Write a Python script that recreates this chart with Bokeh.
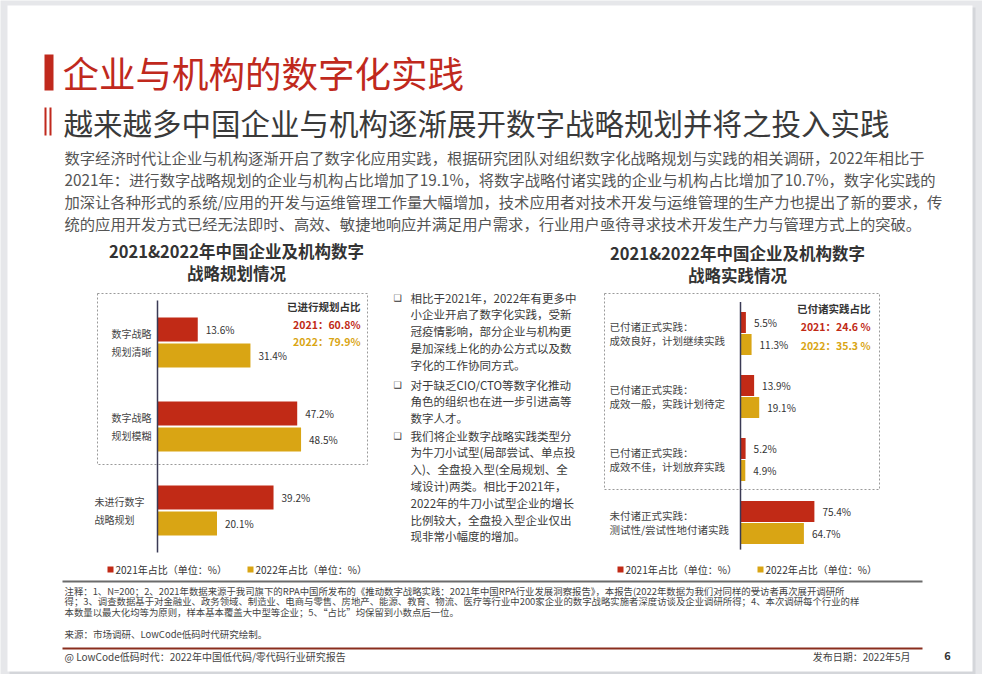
import numpy as np
from bokeh.plotting import figure
from bokeh.models import Range1d, ColumnDataSource
from bokeh.core.properties import value
from bokeh.embed import file_html
from bokeh.resources import INLINE

# ---------------- data ----------------
years = ["2021", "2022"]
plan_labels = [("数字战略", "规划清晰"), ("数字战略", "规划模糊"), ("未进行数字", "战略规划")]
plan_2021 = [13.6, 47.2, 39.2]
plan_2022 = [31.4, 48.5, 20.1]
prac_labels = [("已付诸正式实践：", "成效良好，计划继续实践"),
               ("已付诸正式实践：", "成效一般，实践计划待定"),
               ("已付诸正式实践：", "成效不佳，计划放弃实践"),
               ("未付诸正式实践：", "测试性/尝试性地付诸实践")]
prac_2021 = [5.5, 13.9, 5.2, 75.4]
prac_2022 = [11.3, 19.1, 4.9, 64.7]

title = "企业与机构的数字化实践"
subtitle = "越来越多中国企业与机构逐渐展开数字战略规划并将之投入实践"
para = ["数字经济时代让企业与机构逐渐开启了数字化应用实践，根据研究团队对组织数字化战略规划与实践的相关调研，2022年相比于",
        "2021年：进行数字战略规划的企业与机构占比增加了19.1%，将数字战略付诸实践的企业与机构占比增加了10.7%，数字化实践的",
        "加深让各种形式的系统/应用的开发与运维管理工作量大幅增加，技术应用者对技术开发与运维管理的生产力也提出了新的要求，传",
        "统的应用开发方式已经无法即时、高效、敏捷地响应并满足用户需求，行业用户亟待寻求技术开发生产力与管理方式上的突破。"]
chart1_title = ["2021&2022年中国企业及机构数字", "战略规划情况"]
chart2_title = ["2021&2022年中国企业及机构数字", "战略实践情况"]
mid_bullets = [
    ["相比于2021年，2022年有更多中", "小企业开启了数字化实践，受新", "冠疫情影响，部分企业与机构更",
     "是加深线上化的办公方式以及数", "字化的工作协同方式。"],
    ["对于缺乏CIO/CTO等数字化推动", "角色的组织也在进一步引进高等", "数字人才。"],
    ["我们将企业数字战略实践类型分", "为牛刀小试型(局部尝试、单点投", "入)、全盘投入型(全局规划、全",
     "域设计)两类。相比于2021年，", "2022年的牛刀小试型企业的增长", "比例较大，全盘投入型企业仅出",
     "现非常小幅度的增加。"],
]
legend_text = ["2021年占比（单位：%）", "2022年占比（单位：%）"]
notes = ["注释：1、N=200；2、2021年数据来源于我司旗下的RPA中国所发布的《推动数字战略实践：2021年中国RPA行业发展洞察报告》，本报告(2022年数据为我们对同样的受访者再次展开调研所",
         "得；3、调查数据基于对金融业、政务领域、制造业、电商与零售、房地产、能源、教育、物流、医疗等行业中200家企业的数字战略实施者深度访谈及企业调研所得；4、本次调研每个行业的样",
         "本数量以最大化均等为原则，样本基本覆盖大中型等企业；5、“占比”均保留到小数点后一位。"]
source_text = "来源：市场调研、LowCode低码时代研究绘制。"
footer_left = "@ LowCode低码时代：2022年中国低代码/零代码行业研究报告"
footer_right = "发布日期：2022年5月"
page_no = "6"

# ---------------- style ----------------
CJK = "Noto Sans CJK SC"
RED = "#c12a16"
GOLD = "#d9a514"
TRED = "#c0291d"
DARK = "#333333"
BG = "#e6e7ea"

W, H = 982, 674
X0, Y0 = 8, 8
p = figure(width=W, height=H, x_range=Range1d(X0, X0 + W), y_range=Range1d(Y0 + H, Y0),
           output_backend="svg", toolbar_location=None, min_border=0,
           x_axis_location=None, y_axis_location=None)
p.grid.visible = False
p.outline_line_color = None
p.background_fill_color = BG
p.border_fill_color = BG


def map_range(v_a, px_a, v_b, px_b, px_start, px_end):
    k = (v_b - v_a) / (px_b - px_a)
    return Range1d(start=v_a + (px_start - px_a) * k, end=v_a + (px_end - px_a) * k)


p.extra_x_ranges = {"lx": map_range(0, 165, 10, 194.6, X0, X0 + W),
                    "rx": map_range(0, 748, 10, 757.8, X0, X0 + W)}
p.extra_y_ranges = {"ly": map_range(0, 350, 1, 434, Y0 + H, Y0),
                    "ry": map_range(0, 341, 1, 404, Y0 + H, Y0)}


def txt(x, y, s, size, color=DARK, weight="normal", align="left", font=CJK, **kw):
    p.text(x=[x], y=[y], text=[s], text_font=value(font), text_font_size=f"{size}px",
           text_color=color, text_font_style=weight, text_align=align,
           text_baseline="middle", **kw)


# slide sheet with soft shadow
p.quad(left=[17], right=[983], top=[15], bottom=[682], fill_color="#d4d6da", line_color=None)
p.quad(left=[15], right=[980], top=[13], bottom=[679], fill_color="white", line_color=None)

# title block
p.quad(left=[52], right=[61], top=[62], bottom=[98], fill_color=TRED, line_color=None)
txt(70, 80, title, 36.5, TRED)
p.segment(x0=[53, 58], y0=[115, 115], x1=[53, 58], y1=[143, 143], line_color=TRED, line_width=2)
txt(71, 129, subtitle, 29.5, "#3a3a3a")
for i, line in enumerate(para):
    txt(72, 164 + i * 22.3, line, 15.3, "#555555")

# chart titles
for i, line in enumerate(chart1_title):
    txt(244, 258 + i * 22, line, 16.5, DARK, "bold", "center")
for i, line in enumerate(chart2_title):
    txt(745, 260 + i * 22, line, 16.5, DARK, "bold", "center")

# dashed boxes
p.quad(left=[105, 612], right=[375, 887], top=[301, 301], bottom=[472, 497], fill_color=None,
       line_color="#9a9a9a", line_dash="2 2", line_width=1)


def bar_chart(v21, v22, labels, xr, yr, off, h, label_x, dy, lab_size, axis_bottom):
    n = len(v21)
    idx = np.arange(n)
    src = ColumnDataSource(dict(y21=idx - off, y22=idx + off, v21=v21, v22=v22,
                                t21=[f"{v:.1f}%" for v in v21], t22=[f"{v:.1f}%" for v in v22]))
    p.hbar(y="y21", left=0, right="v21", height=h, fill_color=RED, line_color=None,
           source=src, x_range_name=xr, y_range_name=yr)
    p.hbar(y="y22", left=0, right="v22", height=h, fill_color=GOLD, line_color=None,
           source=src, x_range_name=xr, y_range_name=yr)
    for col, t in (("y21", "t21"), ("y22", "t22")):
        p.text(x="v" + col[1:], y=col, text=t, source=src, x_offset=8,
               text_font=value(CJK), text_font_size="10px", text_color=DARK,
               text_baseline="middle", x_range_name=xr, y_range_name=yr)
    p.segment(x0=[0], y0=[-0.5], x1=[0], y1=[axis_bottom], line_color="#3a3a55", line_width=1.5,
              x_range_name=xr, y_range_name=yr)
    lx = label_x if isinstance(label_x, list) else [label_x] * n
    ys = list(idx - dy) + list(idx + dy)
    xs = lx + lx
    texts = [a for a, b in labels] + [b for a, b in labels]
    p.text(x=xs, y=ys, text=texts, text_font=value(CJK), text_font_size=f"{lab_size}px",
           text_color="#444444", text_baseline="middle", y_range_name=yr)


bar_chart(plan_2021, plan_2022, plan_labels, "lx", "ly", 13 / 84, 24 / 84, [119, 119, 102], 0.11, 10, 2.5)
bar_chart(prac_2021, prac_2022, prac_labels, "rx", "ry", 11 / 63, 21 / 63, 617, 0.115, 10.5, 3.43)

# summary boxes
t1_21 = round(sum(plan_2021[:2]), 1)
t1_22 = round(sum(plan_2022[:2]), 1)
t2_21 = round(sum(prac_2021[:3]), 1)
t2_22 = round(sum(prac_2022[:3]), 1)
txt(368, 314, "已进行规划占比", 10.5, DARK, "bold", "right")
txt(368, 332, f"{years[0]}：{t1_21}%", 10.5, RED, "bold", "right")
txt(368, 349, f"{years[1]}：{t1_22}%", 10.5, GOLD, "bold", "right")
txt(878, 316, "已付诸实践占比", 10.5, DARK, "bold", "right")
txt(878, 334, f"{years[0]}：{t2_21} %", 10.5, RED, "bold", "right")
txt(878, 353, f"{years[1]}：{t2_22} %", 10.5, GOLD, "bold", "right")

# middle bullets
starts = [305, 392, 443]
for b, lines in enumerate(mid_bullets):
    txt(405, starts[b], "❑", 9, DARK, "normal", "center", font="DejaVu Sans")
    for i, line in enumerate(lines):
        txt(418, starts[b] + i * 16.8, line, 11.5, "#3a3a3a")

# bottom legends
for lx0 in (118, 628):
    p.scatter(x=[lx0, lx0 + 140], y=[577, 577], marker="square", size=6,
              fill_color=[RED, GOLD], line_color=None)
    txt(lx0 + 5, 577, legend_text[0], 10, DARK)
    txt(lx0 + 145, 577, legend_text[1], 10, DARK)

# rules and footnotes
p.segment(x0=[70], y0=[589], x1=[930], y1=[589], line_color="#6b6b6b", line_width=2)
for i, line in enumerate(notes):
    txt(72, 598 + i * 10.5, line, 9.4, "#444444")
txt(72, 641, source_text, 9.5, "#444444")
p.segment(x0=[70], y0=[656], x1=[930], y1=[656], line_color="#8a2e1e", line_width=2)
txt(72, 664, footer_left, 10, "#444444")
txt(918, 664, footer_right, 10, "#444444", "normal", "right")
txt(955, 663, page_no, 11, "#333333", "bold", "center")

open("out.html", "w").write(file_html(p, INLINE))
